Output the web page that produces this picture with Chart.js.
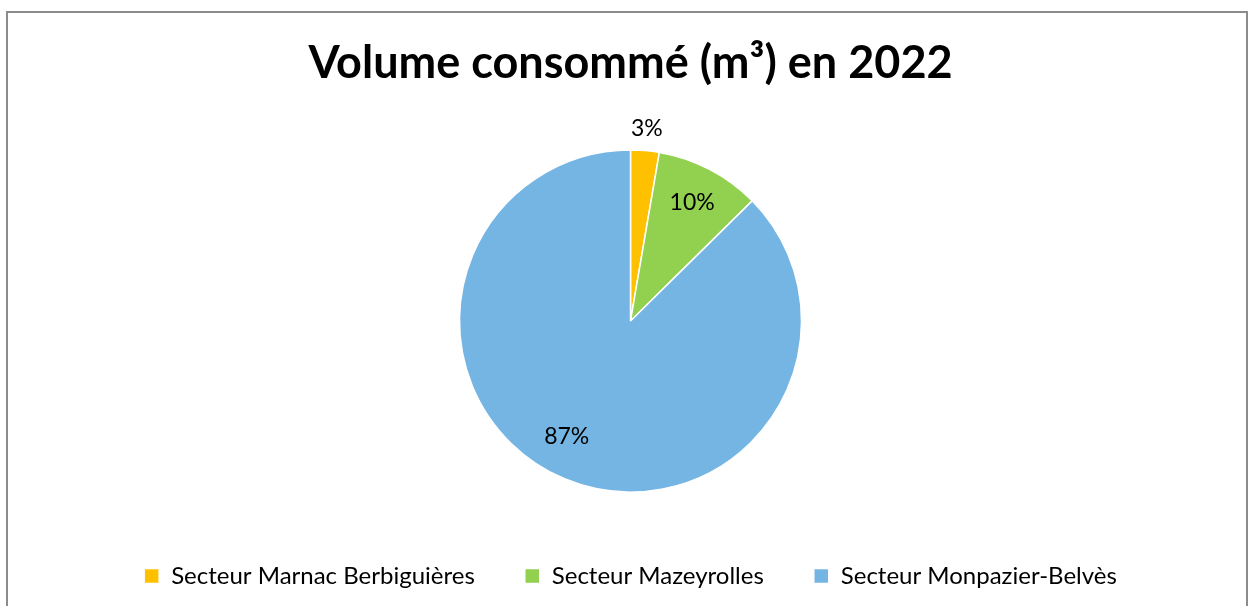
<!DOCTYPE html>
<html>
<head>
<meta charset="utf-8">
<title>Volume consommé</title>
<script src="https://cdn.jsdelivr.net/npm/chart.js"></script>
<style>
body { margin: 0; background: #fff; }
.frame {
	position: absolute;
	left: 6px; top: 11px;
	width: 1242px; height: 620px;
	border: 2px solid #8c8c8c;
	box-sizing: border-box;
}
.chart-container {
	position: absolute;
	left: 0; top: 0;
	width: 1253px; height: 606px;
}
</style>
</head>
<body>
<div class="frame"></div>
<div class="chart-container">
	<canvas id="myChart"></canvas>
</div>
<script>
const sectors = ['Secteur Marnac Berbiguières', 'Secteur Mazeyrolles', 'Secteur Monpazier-Belvès'];
const shares = [2.7, 9.9, 87.4];
const colors = ['#FFC000', '#92D050', '#75B5E4'];
// label placement: share of the radius, and a small angle nudge (radians)
const labelRadius = [1.13, 0.78, 0.77];
const labelNudge = [0, 0, 0.11];

const pctLabels = {
	id: 'pctLabels',
	afterDatasetsDraw(chart) {
		const ctx = chart.ctx;
		const meta = chart.getDatasetMeta(0);
		const data = chart.data.datasets[0].data;
		const total = data.reduce((a, b) => a + b, 0);
		ctx.save();
		ctx.font = '23px Lato';
		ctx.fillStyle = '#000';
		ctx.textAlign = 'center';
		ctx.textBaseline = 'middle';
		meta.data.forEach((arc, i) => {
			const p = arc.getProps(['x', 'y', 'startAngle', 'endAngle', 'outerRadius'], true);
			const mid = (p.startAngle + p.endAngle) / 2 + labelNudge[i];
			const r = p.outerRadius * labelRadius[i];
			ctx.fillText(Math.round(data[i] / total * 100) + '%', p.x + Math.cos(mid) * r, p.y + Math.sin(mid) * r);
		});
		ctx.restore();
	}
};

new Chart(document.getElementById('myChart'), {
	type: 'pie',
	data: {
		labels: sectors,
		datasets: [{
			data: shares,
			backgroundColor: colors,
			borderColor: '#fff',
			borderWidth: 1.5,
			radius: 171
		}]
	},
	options: {
		responsive: true,
		maintainAspectRatio: false,
		animation: false,
		layout: { padding: { left: 8, bottom: 8 } },
		plugins: {
			title: {
				display: true,
				text: 'Volume consommé (m³) en 2022',
				color: '#000',
				font: { family: 'Lato', size: 45, weight: 'bold' },
				padding: { top: 36, bottom: 38 }
			},
			legend: {
				position: 'bottom',
				labels: {
					color: '#000',
					font: { family: 'Lato', size: 24 },
					boxWidth: 15,
					boxHeight: 15,
					padding: 50
				}
			},
			tooltip: { enabled: false }
		}
	},
	plugins: [pctLabels]
});
</script>
</body>
</html>
